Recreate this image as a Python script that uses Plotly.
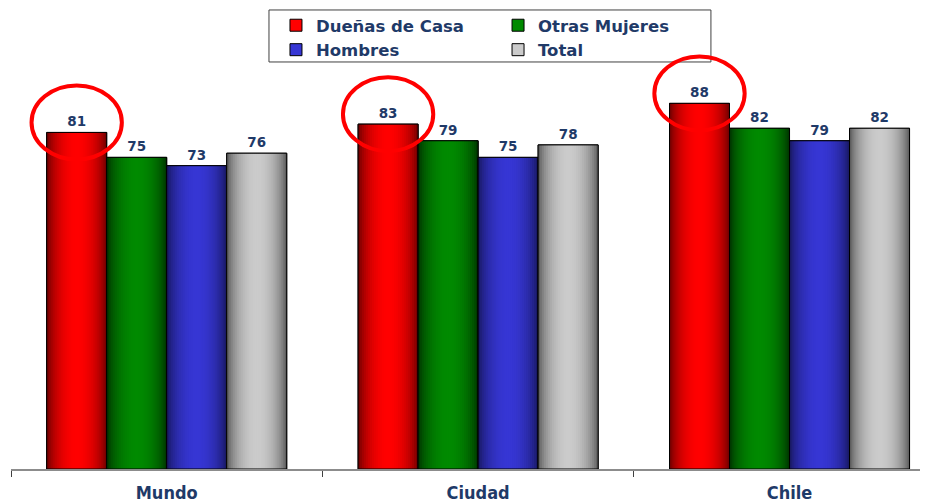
import math
import plotly.graph_objects as go

# datos
regiones = ["Mundo", "Ciudad", "Chile"]
duenas_de_casa = [81, 83, 88]
otras_mujeres = [75, 79, 82]
hombres = [73, 75, 79]
total = [76, 78, 82]

AZUL = "#1F3A68"
FUENTE = "DejaVu Sans"

# nombre, valores, color oscuro (borde), color claro (centro), leyenda
series = [
    ("Dueñas de Casa", duenas_de_casa, "#5a0000", "#ff0000", "legend"),
    ("Otras Mujeres", otras_mujeres, "#002800", "#008a00", "legend2"),
    ("Hombres", hombres, "#141450", "#3636d4", "legend"),
    ("Total", total, "#4a4a4a", "#cbcbcb", "legend2"),
]


def mezcla(c1, c2, f):
    a = [int(c1[i:i + 2], 16) for i in (1, 3, 5)]
    b = [int(c2[i:i + 2], 16) for i in (1, 3, 5)]
    return "rgb(%d,%d,%d)" % tuple(round(x + (y - x) * f) for x, y in zip(a, b))


ANCHO = 0.1927          # ancho de cada barra (unidades de categoria)
N = 30                  # franjas para el degradado
inicio = -2 * ANCHO

fig = go.Figure()

for k, (nombre, valores, oscuro, claro, ley) in enumerate(series):
    izq = inicio + k * ANCHO
    # barra base: da la leyenda y las etiquetas
    fig.add_trace(go.Bar(
        x=regiones, y=valores, name=nombre, legend=ley,
        offset=izq, width=ANCHO,
        marker=dict(color=claro, line=dict(color="#000000", width=1)),
        text=valores, textposition="outside", cliponaxis=False,
        textfont=dict(family=FUENTE, size=13.5, color=AZUL, weight="bold"),
        hoverinfo="x+y+name",
    ))
    # degradado horizontal tipo cilindro
    paso = ANCHO / N
    for j in range(N):
        t = (j + 0.5) / N
        f = math.sin(math.pi * t) ** 0.6
        off = izq + j * paso
        w = min(paso * 1.4, izq + ANCHO - off)
        fig.add_trace(go.Bar(
            x=regiones, y=valores, offset=off, width=w,
            marker=dict(color=mezcla(oscuro, claro, f), line=dict(width=0)),
            showlegend=False, hoverinfo="skip",
        ))
    # contorno
    fig.add_trace(go.Bar(
        x=regiones, y=valores, offset=izq, width=ANCHO,
        marker=dict(color="rgba(0,0,0,0)", line=dict(color="#000000", width=1)),
        showlegend=False, hoverinfo="skip",
    ))

# elipses rojas sobre Dueñas de Casa
centro_rojo = inicio + ANCHO / 2
for i, v in enumerate(duenas_de_casa):
    fig.add_shape(type="circle", xref="x", yref="y",
                  x0=i + centro_rojo - 0.145, x1=i + centro_rojo + 0.145,
                  y0=v + 2.4 - 8.9, y1=v + 2.4 + 8.9,
                  line=dict(color="#ff0000", width=4))

# marco de la leyenda
fig.add_shape(type="rect", xref="paper", yref="paper",
              x0=0.2838, x1=0.770, y0=0.8829, y1=0.9957,
              line=dict(color="#404040", width=1), fillcolor="white", layer="below")

ley_font = dict(family=FUENTE, size=16.5, color=AZUL, weight="bold")
fig.update_layout(
    # la pagina deja 8 px de margen, por eso 922x496
    width=922, height=496,
    margin=dict(l=3, r=10, t=0, b=35),
    paper_bgcolor="white", plot_bgcolor="white",
    barmode="overlay",
    showlegend=True,
    legend=dict(x=0.2915, y=1.0, xanchor="left", yanchor="top",
                bgcolor="rgba(0,0,0,0)", font=ley_font, borderwidth=0),
    legend2=dict(x=0.5358, y=1.0, xanchor="left", yanchor="top",
                 bgcolor="rgba(0,0,0,0)", font=ley_font, borderwidth=0),
    xaxis=dict(
        type="category", range=[-0.5, 2.419],
        showline=True, linecolor="#8c8c8c", linewidth=2,
        ticks="outside", tickson="boundaries", ticklen=6,
        tickcolor="#404040", tickwidth=1,
        showgrid=False, zeroline=False,
        tickfont=dict(family="DejaVu Sans Condensed", size=18, color=AZUL, weight="bold"),
        ticklabelstandoff=6,
    ),
    yaxis=dict(range=[0, 110.95], visible=False, showgrid=False, zeroline=False),
)

fig.write_html("out.html")
